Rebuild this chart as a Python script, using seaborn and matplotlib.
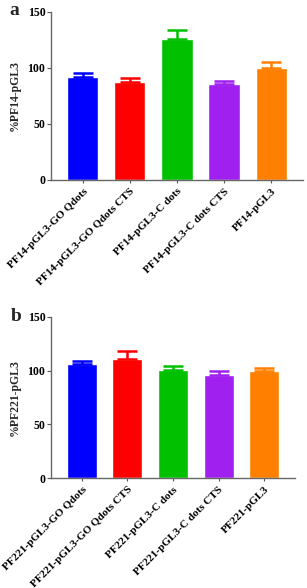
import matplotlib
matplotlib.use('Agg')
import matplotlib.pyplot as plt
import seaborn as sns

sns.set_style('ticks')
plt.rcParams['font.family'] = ['Liberation Serif', 'DejaVu Serif']
plt.rcParams['font.weight'] = 'bold'

groups_a = ['PF14-pGL3-GO Qdots', 'PF14-pGL3-GO Qdots CTS', 'PF14-pGL3-C dots',
            'PF14-pGL3-C dots CTS', 'PF14-pGL3']
means_a = [92, 87.5, 126, 85.5, 100]
err_a = [3, 3, 8, 2.5, 5.5]

groups_b = ['PF221-pGL3-GO Qdots', 'PF221-pGL3-GO Qdots CTS', 'PF221-pGL3-C dots',
            'PF221-pGL3-C dots CTS', 'PF221-pGL3']
means_b = [106, 110.5, 101, 96, 100]
err_b = [3, 7.5, 3, 4, 2]

colors = ['#0000FF', '#FF0000', '#00C000', '#A020F0', '#FF8000']

fig = plt.figure(figsize=(3.07, 5.88), dpi=100)
ax_a = fig.add_axes([0.166, 0.694, 0.821, 0.286])
ax_b = fig.add_axes([0.166, 0.187, 0.795, 0.274])


def panel(ax, groups, means, errs, ylab):
    sns.barplot(x=groups, y=means, hue=groups, palette=colors, width=0.66,
                legend=False, saturation=1, ax=ax)
    for i, (m, e) in enumerate(zip(means, errs)):
        ax.errorbar(i, m, yerr=[[0], [e]], fmt='none', ecolor=colors[i],
                    elinewidth=1.8, capsize=7, capthick=1.8)
    ax.set_xlim(-0.68, 4.68)
    ax.set_ylim(0, 150)
    ax.set_yticks([0, 50, 100, 150])
    ax.set_ylabel(ylab, fontsize=8.5, fontweight='bold', labelpad=5)
    ax.set_xticks(range(5))
    ax.set_xticklabels(groups, rotation=45, ha='right', rotation_mode='anchor',
                       fontsize=8, fontweight='bold')
    ax.tick_params(axis='y', labelsize=8.5, length=3, width=0.8, pad=1,
                   colors='#555555', labelcolor='black')
    ax.tick_params(axis='x', length=2, width=0.8, pad=3,
                   colors='#555555', labelcolor='black')
    for lab in ax.get_yticklabels():
        lab.set_fontweight('bold')
    sns.despine(ax=ax)
    for s in ['left', 'bottom']:
        ax.spines[s].set_color('#666666')
        ax.spines[s].set_linewidth(1.0)


panel(ax_a, groups_a, means_a, err_a, '%PF14-pGL3')
panel(ax_b, groups_b, means_b, err_b, '%PF221-pGL3')

fig.text(0.03, 0.982, 'a', fontsize=14, fontweight='bold', va='center')
fig.text(0.035, 0.462, 'b', fontsize=14, fontweight='bold', va='center')

fig.savefig('out.png', dpi=100)
